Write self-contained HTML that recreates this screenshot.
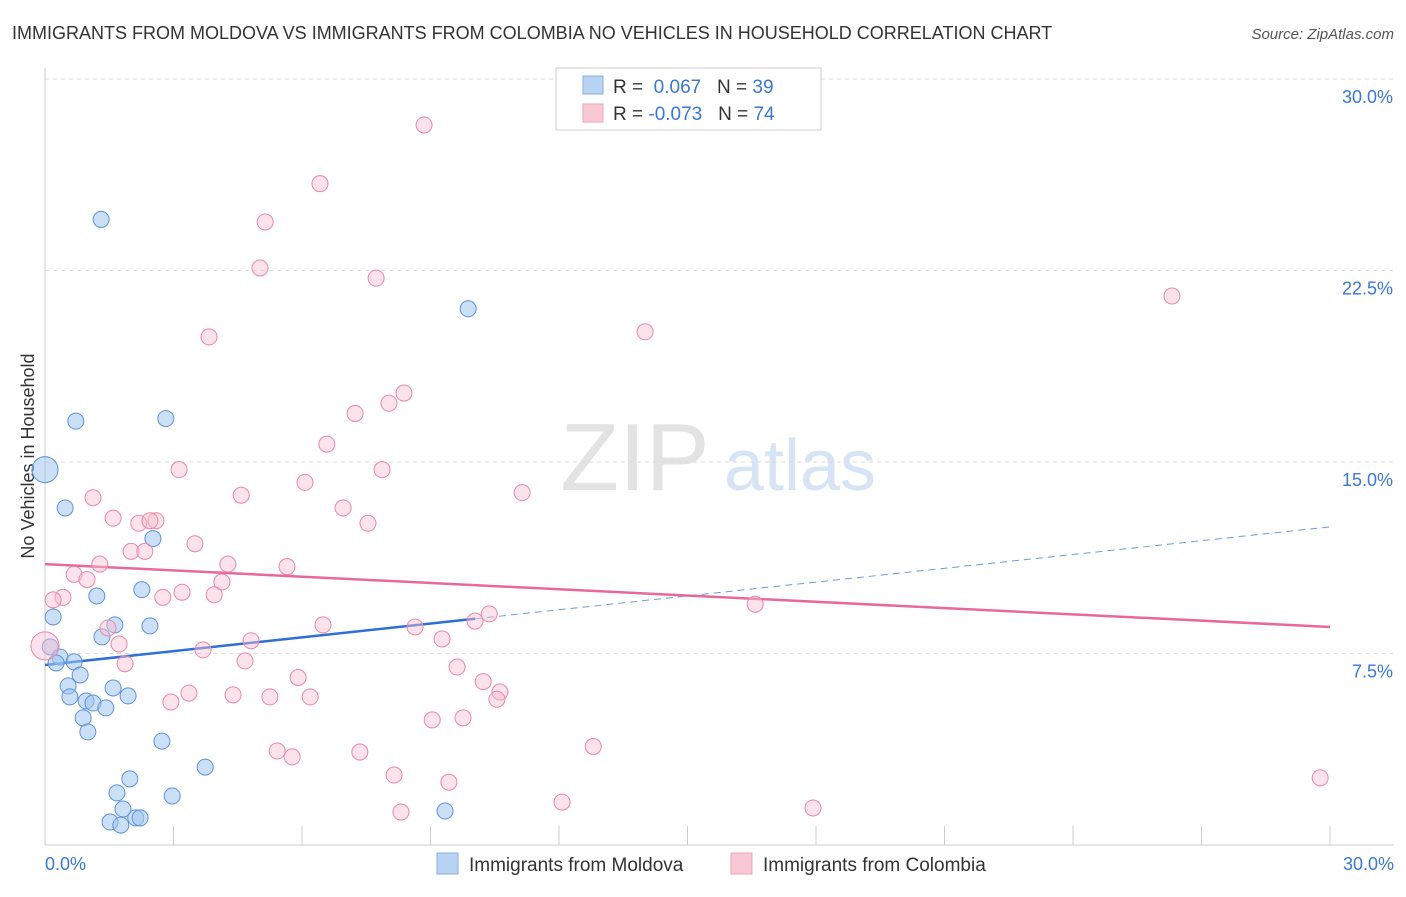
<!DOCTYPE html>
<html><head><meta charset="utf-8"><style>
body{margin:0;background:#fff;font-family:"Liberation Sans",sans-serif;}
svg text{font-family:"Liberation Sans",sans-serif;}
</style></head><body>
<svg id="chart" width="1406" height="892">
<text x="12" y="39" font-size="18" fill="#333">IMMIGRANTS FROM MOLDOVA VS IMMIGRANTS FROM COLOMBIA NO VEHICLES IN HOUSEHOLD CORRELATION CHART</text>
<text x="1394" y="39" font-size="15" fill="#555" font-style="italic" text-anchor="end">Source: ZipAtlas.com</text>
<text x="34" y="456" font-size="18" fill="#333" text-anchor="middle" transform="rotate(-90 34 456)">No Vehicles in Household</text>
<g><text x="635" y="490" font-size="96" fill="#e3e3e3" font-family="Liberation Serif" text-anchor="middle">ZIP</text><text x="800" y="490" font-size="72" fill="#d6e4f5" text-anchor="middle">atlas</text></g>
<g id="grid"></g><g id="axes"></g><g id="lines"></g><g id="pts"></g>
<g>
<rect x="556" y="68" width="265" height="62" fill="#fff" stroke="#ccc"/>
<rect x="583" y="76" width="20" height="18" fill="#b9d3f4" stroke="#88aee0"/>
<rect x="583" y="104" width="20" height="18" fill="#f9c8d5" stroke="#eda4b9"/>
<text x="613" y="93" font-size="19" fill="#333">R = <tspan fill="#3a78d6">&#160;0.067</tspan>&#160;&#160;&#160;N = <tspan fill="#3a78d6">39</tspan></text>
<text x="613" y="120" font-size="19" fill="#333">R = <tspan fill="#3a78d6">-0.073</tspan>&#160;&#160;&#160;N = <tspan fill="#3a78d6">74</tspan></text>
</g>
<g>
<rect x="437" y="853" width="21" height="21" fill="#b9d3f4" stroke="#88aee0"/>
<text x="469" y="871" font-size="19" fill="#333">Immigrants from Moldova</text>
<rect x="731" y="853" width="21" height="21" fill="#f9c8d5" stroke="#eda4b9"/>
<text x="763" y="871" font-size="19" fill="#333">Immigrants from Colombia</text>
</g>
</svg>
<script>
const yTicks=[7.5,15,22.5,30];
const yTickLabels=["7.5%","15.0%","22.5%","30.0%"];
const xTickVals=[0,3,6,9,12,15,18,21,24,27,30];
const xEndLabels=["0.0%","30.0%"];
const blueX=[1.31,9.88,0.72,2.82,0,0.47,2.52,2.26,1.21,0.19,1.63,2.45,1.33,0.12,0.35,0.68,0.26,0.82,0.54,1.59,0.58,0.96,1.12,1.94,1.42,0.89,1.0,2.73,3.74,1.98,1.68,2.97,1.82,2.12,2.22,1.52,1.77,9.34];
const blueY=[24.5,21.0,16.6,16.7,14.7,13.2,12.0,10.0,9.75,8.93,8.62,8.58,8.15,7.76,7.36,7.17,7.13,6.66,6.23,6.15,5.8,5.64,5.56,5.84,5.37,4.98,4.43,4.07,3.05,2.59,2.04,1.92,1.41,1.06,1.06,0.9,0.78,1.33];
const blueSize=[9,9,9,9,14,9,9,9,9,9,9,9,9,9,9,9,9,9,9,9,9,9,9,9,9,9,9,9,9,9,9,9,9,9,9,9,9,9];
const pinkX=[8.85,6.42,5.14,5.02,7.73,3.83,26.31,14.01,8.38,8.03,7.24,6.58,3.13,7.87,6.07,11.14,4.58,1.12,6.96,1.59,7.54,2.19,2.59,2.45,3.5,2.01,2.33,1.28,4.27,5.65,0.68,0.98,4.13,3.2,3.95,2.75,0.42,0.19,10.37,10.04,16.58,6.49,8.64,1.47,4.81,9.27,1.73,3.69,0,1.87,4.67,9.62,5.91,10.23,10.62,10.55,3.36,2.94,4.39,5.25,6.19,9.04,9.76,12.8,5.42,5.77,7.35,8.15,9.43,29.77,12.07,17.93,8.31];
const pinkY=[28.2,25.9,24.4,22.6,22.2,19.9,21.5,20.1,17.7,17.3,16.9,15.7,14.7,14.7,14.2,13.8,13.7,13.6,13.2,12.8,12.6,12.6,12.7,12.7,11.8,11.5,11.5,11.0,11.0,10.9,10.6,10.4,10.3,9.9,9.8,9.7,9.7,9.6,9.05,8.77,9.43,8.62,8.54,8.5,8.0,8.07,7.87,7.64,7.8,7.1,7.21,6.97,6.56,6.4,5.99,5.71,5.95,5.6,5.88,5.8,5.8,4.9,4.98,3.86,3.68,3.45,3.64,2.74,2.46,2.63,1.68,1.45,1.29];
const blueTrend=[7.05,12.46];
const pinkTrend=[11.0,8.54];
const X0=45,X1=1330,Y0=845,Y30=79;
const xs=v=>X0+(X1-X0)*v/30, ys=v=>Y0-(Y0-Y30)*v/30;
const NS="http://www.w3.org/2000/svg";
function mk(tag,attrs,parent){const e=document.createElementNS(NS,tag);for(const k in attrs)e.setAttribute(k,attrs[k]);document.getElementById(parent).appendChild(e);return e;}
yTicks.forEach((t,i)=>{
 const l=mk('line',{x1:45,x2:1394,y1:ys(t),y2:ys(t),stroke:'#ddd','stroke-dasharray':'4 4'},'grid');
 
 
 const tx=mk('text',{x:1393,y:ys(t)+24,'font-size':18,fill:'#3a78d6','text-anchor':'end'},'axes');
 tx.textContent=yTickLabels[i];
 
 
});
const ax=mk('line',{x1:45,x2:1394,y1:845,y2:845,stroke:'#ccc'},'axes');


const ay=mk('line',{x1:45,x2:45,y1:68,y2:845,stroke:'#ccc'},'axes');


xTickVals.forEach(t=>{
 const l=mk('line',{x1:xs(t),x2:xs(t),y1:826,y2:845,stroke:'#ccc'},'axes');
 
 
});
[[0,'start',45],[30,'end',1394]].forEach((d,i)=>{
 const tx=mk('text',{x:d[2],y:870,'font-size':18,fill:'#3a78d6','text-anchor':d[1]},'axes');
 tx.textContent=xEndLabels[i];
 
 
});
blueX.forEach((x,i)=>{
 const c=mk('circle',{cx:xs(x),cy:ys(blueY[i]),r:blueSize[i]-1,fill:'rgba(160,196,240,0.55)',stroke:'#5e93d6','stroke-width':1},'pts');
 
 
});
pinkX.forEach((x,i)=>{
 const c=mk('circle',{cx:xs(x),cy:ys(pinkY[i]),r:(i==48?14:8),fill:'rgba(248,190,208,0.45)',stroke:'#e888a8','stroke-width':1},'pts');
 
 
});
const bAt=x=>blueTrend[0]+(blueTrend[1]-blueTrend[0])*x/30;
const b1=mk('line',{x1:xs(0),y1:ys(bAt(0)),x2:xs(10.04),y2:ys(bAt(10.04)),stroke:'#2e6fd6','stroke-width':2.5},'lines');


const b2=mk('line',{x1:xs(10.04),y1:ys(bAt(10.04)),x2:xs(30),y2:ys(bAt(30)),stroke:'#6a9be0','stroke-width':1,'stroke-dasharray':'7 5'},'lines');


const p1=mk('line',{x1:xs(0),y1:ys(pinkTrend[0]),x2:xs(30),y2:ys(pinkTrend[1]),stroke:'#e8689a','stroke-width':2.5},'lines');


</script>
</body></html>
